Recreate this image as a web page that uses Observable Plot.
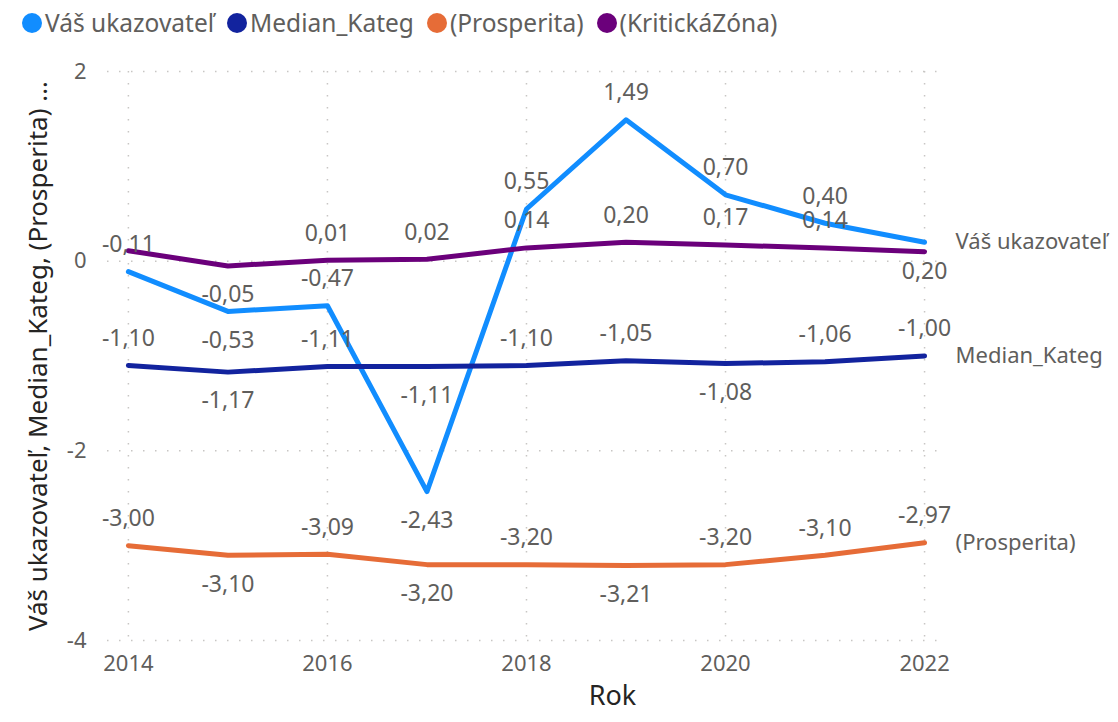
<!DOCTYPE html>
<html>
<head>
<meta charset="utf-8">
<script src="https://cdn.jsdelivr.net/npm/d3@7"></script>
<script src="https://cdn.jsdelivr.net/npm/@observablehq/plot@0.6"></script>
<style>
  html, body { margin: 0; padding: 0; background: #fff; }
  body { width: 1118px; height: 722px; overflow: hidden; font-family: "Segoe UI", "Noto Sans", "Open Sans", sans-serif; }
  #legend { height: 42px; display: flex; align-items: center; padding-left: 22px; padding-top: 3px; box-sizing: border-box; font-size: 24.5px; color: #605E5C; white-space: nowrap; }
  .item { display: flex; align-items: center; margin-right: 13px; }
  .dot { width: 20px; height: 20px; border-radius: 50%; margin-right: 3px; }
</style>
</head>
<body>
<div id="legend"></div>
<div id="chart"></div>
<script>
// ---- data ----
const years = [2014, 2015, 2016, 2017, 2018, 2019, 2020, 2021, 2022];
const seriesNames = ["Váš ukazovateľ", "Median_Kateg", "(Prosperita)", "(KritickáZóna)"];
const seriesColors = ["#118DFF", "#12239E", "#E66C37", "#6B007B"];
const vasUkazovatel = [-0.11, -0.53, -0.47, -2.43, 0.55, 1.49, 0.70, 0.40, 0.20];
const medianKateg   = [-1.10, -1.17, -1.11, -1.11, -1.10, -1.05, -1.08, -1.06, -1.00];
const prosperita    = [-3.00, -3.10, -3.09, -3.20, -3.20, -3.21, -3.20, -3.10, -2.97];
const kritickaZona  = [0.11, -0.05, 0.01, 0.02, 0.14, 0.20, 0.17, 0.14, 0.10];
// data label placement: "a" above, "b" below, "" hidden
const labelsVas    = ["a", "b", "a", "b", "a", "a", "a", "a", "b"];
const labelsMedian = ["a", "b", "a", "b", "a", "a", "b", "a", "a"];
const labelsProsp  = ["a", "b", "a", "b", "a", "b", "a", "a", "a"];
const labelsKrit   = ["", "b", "a", "a", "a", "a", "a", "a", ""];
const xTicks = [2014, 2016, 2018, 2020, 2022];
const yTicks = [-4, -2, 0, 2];
const endLabelSeries = ["Váš ukazovateľ", "Median_Kateg", "(Prosperita)"];

// ---- build table ----
const valuesBySeries = [vasUkazovatel, medianKateg, prosperita, kritickaZona];
const labelsBySeries = [labelsVas, labelsMedian, labelsProsp, labelsKrit];
const data = [];
seriesNames.forEach((s, i) => {
  years.forEach((yr, j) => {
    data.push({series: s, Rok: yr, value: valuesBySeries[i][j], side: labelsBySeries[i][j]});
  });
});
const fmt = v => v.toFixed(2).replace(".", ",");
const endData = data.filter(d => d.Rok === years[years.length - 1] && endLabelSeries.includes(d.series));

// ---- legend ----
const legend = document.getElementById("legend");
seriesNames.forEach((s, i) => {
  const it = document.createElement("div");
  it.className = "item";
  const dot = document.createElement("span");
  dot.className = "dot";
  dot.style.background = seriesColors[i];
  const t = document.createElement("span");
  t.textContent = s;
  it.appendChild(dot); it.appendChild(t);
  legend.appendChild(it);
});

const grid = {stroke: "#C8C6C4", strokeOpacity: 1, strokeWidth: 1.5, strokeDasharray: "1.5,10.5"};
const labelColor = "#605E5C";
const fontFamily = '"Segoe UI", "Noto Sans", "Open Sans", sans-serif';

const chart = Plot.plot({
  width: 1118,
  height: 680,
  marginTop: 29,
  marginBottom: 82,
  marginLeft: 107,
  marginRight: 181,
  style: {fontFamily, fontSize: "22px", color: labelColor, background: "#fff"},
  x: {domain: [2013.79, 2022.13]},
  y: {domain: [-4, 2]},
  color: {domain: seriesNames, range: seriesColors},
  marks: [
    Plot.gridY(yTicks, grid),
    Plot.gridX(xTicks, grid),
    Plot.axisX(xTicks, {tickSize: 0, tickPadding: 15, tickFormat: d => String(d), fontSize: 22, label: null}),
    Plot.axisY(yTicks, {tickSize: 0, tickPadding: 21, tickFormat: d => String(d), fontSize: 22, label: null}),
    Plot.line(data, {x: "Rok", y: "value", z: "series", stroke: "series", strokeWidth: 5, strokeLinecap: "round", strokeLinejoin: "round"}),
    Plot.text(data.filter(d => d.side === "a"), {x: "Rok", y: "value", text: d => fmt(d.value), dy: -27, fill: labelColor, fontSize: 23}),
    Plot.text(data.filter(d => d.side === "b"), {x: "Rok", y: "value", text: d => fmt(d.value), dy: 29, fill: labelColor, fontSize: 23}),
    Plot.text(endData, {x: "Rok", y: "value", text: "series", textAnchor: "start", dx: 31, fill: labelColor, fontSize: 22}),
    Plot.text(["Rok"], {frameAnchor: "bottom", dx: 90, dy: 64, fill: "#252423", fontSize: 27}),
    Plot.text(["Váš ukazovateľ, Median_Kateg, (Prosperita) ..."], {frameAnchor: "left", textAnchor: "middle", rotate: -90, dx: -69, fill: "#252423", fontSize: 26})
  ]
});
document.getElementById("chart").appendChild(chart);
</script>
</body>
</html>
